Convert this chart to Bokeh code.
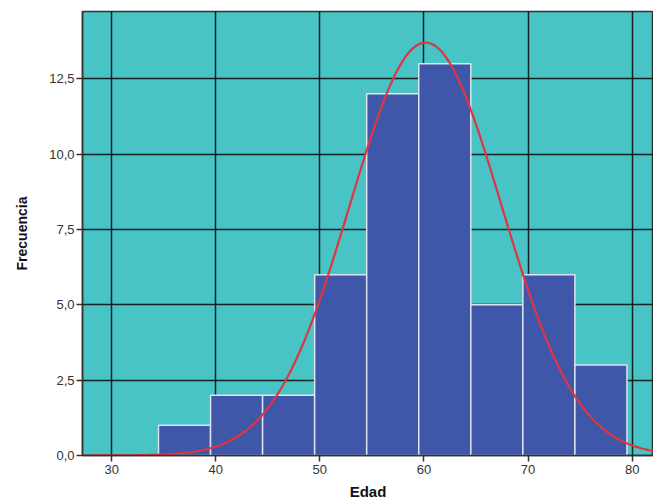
from bokeh.plotting import figure
from bokeh.models import FixedTicker, Range1d
from bokeh.embed import file_html
from bokeh.resources import INLINE
import numpy as np

bin_left = [34.5, 39.5, 44.5, 49.5, 54.5, 59.5, 64.5, 69.5, 74.5]
bin_right = [39.5, 44.5, 49.5, 54.5, 59.5, 64.5, 69.5, 74.5, 79.5]
counts = [1, 2, 2, 6, 12, 13, 5, 6, 3]
fit_mean = 60.16
fit_sd = 7.28
n_total = 50
bin_width = 5.0
x_ticks = [30, 40, 50, 60, 70, 80]
y_ticks = [0, 2.5, 5, 7.5, 10, 12.5]
y_tick_labels = ["0,0", "2,5", "5,0", "7,5", "10,0", "12,5"]

p = figure(width=653, height=502, output_backend="svg", toolbar_location=None,
           x_range=Range1d(27.2, 82.05), y_range=Range1d(0, 14.73),
           min_border_left=82, min_border_top=11, min_border_right=0, min_border_bottom=47)

p.background_fill_color = "#48C3C6"
p.border_fill_color = "white"
p.outline_line_color = "#333333"
p.outline_line_width = 1.5

p.xgrid.ticker = FixedTicker(ticks=x_ticks)
p.ygrid.ticker = FixedTicker(ticks=y_ticks)
for g in (p.xgrid, p.ygrid):
    g.grid_line_color = "#111111"
    g.grid_line_width = 1.5
    g.grid_line_alpha = 0.9

p.quad(left=bin_left, right=bin_right, bottom=0, top=counts,
       fill_color="#3E57A9", line_color="#DDE4F0", line_width=1.5)

xs = np.linspace(27.2, 82.05, 300)
ys = n_total * bin_width / (fit_sd * np.sqrt(2 * np.pi)) * np.exp(-0.5 * ((xs - fit_mean) / fit_sd) ** 2)
p.line(xs, ys, line_color="#E0353F", line_width=2.2)

p.xaxis.ticker = FixedTicker(ticks=x_ticks)
p.yaxis.ticker = FixedTicker(ticks=y_ticks)
p.yaxis.major_label_overrides = {t: l for t, l in zip(y_ticks, y_tick_labels)}
p.xaxis.minor_tick_line_color = None
p.yaxis.minor_tick_line_color = None
for ax in (p.xaxis, p.yaxis):
    ax.axis_line_color = "#333333"
    ax.axis_line_width = 1.5
    ax.major_tick_line_color = "#333333"
    ax.major_tick_line_width = 1.5
    ax.major_tick_in = 0
    ax.major_tick_out = 6
    ax.major_label_text_font = "Liberation Sans"
    ax.major_label_text_font_size = "13px"
    ax.major_label_text_color = "#333333"
    ax.axis_label_text_font = "Liberation Sans"
    ax.axis_label_text_font_style = "bold"
    ax.axis_label_text_color = "#111111"

p.xaxis.axis_label = "Edad"
p.yaxis.axis_label = "Frecuencia"
p.xaxis.axis_label_text_font_size = "15px"
p.yaxis.axis_label_text_font_size = "14px"
p.xaxis.axis_label_standoff = 6
p.yaxis.axis_label_standoff = 16
p.xaxis.major_label_standoff = 3
p.yaxis.major_label_standoff = 2

open("out.html", "w").write(file_html(p, INLINE))
